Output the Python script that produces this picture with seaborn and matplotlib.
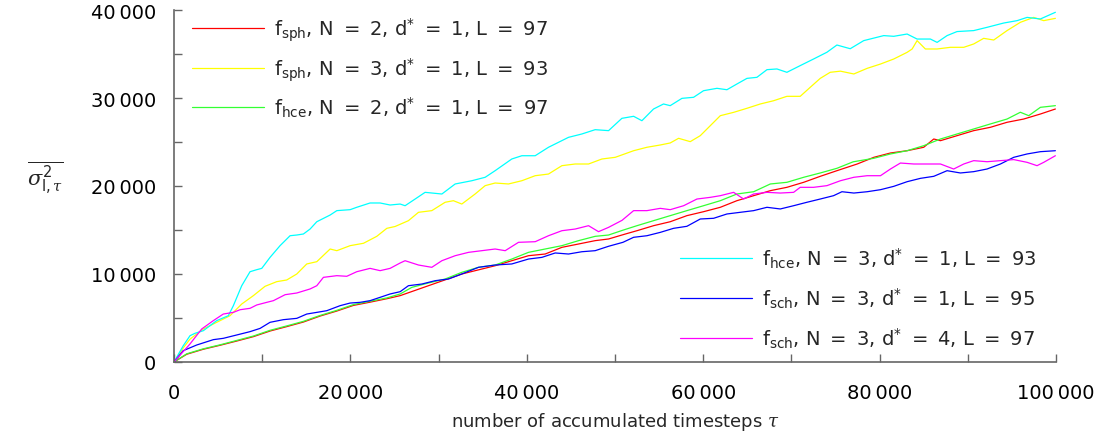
import numpy as np
import pandas as pd
import matplotlib
matplotlib.use("Agg")
import matplotlib.pyplot as plt
from matplotlib.ticker import MultipleLocator, FixedLocator
import seaborn as sns

# ---------------- data ----------------
EQ = " \u2009=\u2009 "
labels = [
    r"$\mathrm{f}_{\mathrm{sph}}$, N" + EQ + "2, d$^{*}$" + EQ + "1, L" + EQ + "97",
    r"$\mathrm{f}_{\mathrm{sph}}$, N" + EQ + "3, d$^{*}$" + EQ + "1, L" + EQ + "93",
    r"$\mathrm{f}_{\mathrm{hce}}$, N" + EQ + "2, d$^{*}$" + EQ + "1, L" + EQ + "97",
    r"$\mathrm{f}_{\mathrm{hce}}$, N" + EQ + "3, d$^{*}$" + EQ + "1, L" + EQ + "93",
    r"$\mathrm{f}_{\mathrm{sch}}$, N" + EQ + "3, d$^{*}$" + EQ + "1, L" + EQ + "95",
    r"$\mathrm{f}_{\mathrm{sch}}$, N" + EQ + "3, d$^{*}$" + EQ + "4, L" + EQ + "97",
]
colors = ["#ff0000", "#ffff00", "#33ff33", "#00ffff", "#0000ff", "#ff00ff"]

red_x = [0, 1440, 3330, 5220, 7110, 9000, 10890, 12780, 14670, 16560, 18460, 20340, 22230, 24130, 25640,
         28850, 32630, 36410, 40190, 42080, 43980, 45870, 47750, 49270, 51160, 52490, 54370, 56260, 58150,
         60040, 61940, 63820, 65720, 67610, 69490, 71390, 73270, 75160, 77460, 79350, 81230, 83120, 85000,
         86140, 86900, 88780, 90670, 92560, 94450, 96340, 98230, 99930]
red_y = [0, 880, 1450, 1900, 2380, 2880, 3520, 4020, 4540, 5220, 5790, 6430, 6800, 7190, 7540,
         8670, 10000, 10940, 12080, 12270, 13030, 13410, 13790, 13980, 14540, 14920, 15490, 15940, 16630,
         17080, 17580, 18330, 18900, 19470, 19850, 20420, 21100, 21740, 22500, 23260, 23750, 24010, 24400,
         25340, 25150, 25720, 26290, 26670, 27240, 27610, 28180, 28750]

yellow_x = [0, 1050, 1815, 3330, 4840, 6350, 7680, 9000, 10320, 11650, 12780, 13920, 15050, 16190, 17700,
            18460, 19970, 21480, 22990, 24130, 25070, 26580, 27720, 29230, 30740, 31680, 32630, 34140, 35280,
            36410, 37920, 39440, 40950, 42460, 43980, 45490, 47000, 48520, 50030, 52110, 53620, 55130, 56260,
            57210, 58530, 59670, 60800, 61940, 63450, 64960, 66470, 67980, 69490, 71000, 72140, 73270, 74400,
            75560, 77080, 78590, 80100, 81600, 83120, 83690, 84250, 85190, 86520, 88030, 89540, 90670, 91800,
            92940, 94450, 95960, 97470, 98610, 99930]
yellow_y = [0, 1600, 2600, 3750, 4510, 5260, 6590, 7540, 8600, 9130, 9320, 10000, 11140, 11400, 12840,
            12650, 13220, 13490, 14280, 15190, 15400, 16060, 17010, 17200, 18150, 18330, 17950, 19090, 20040,
            20340, 20230, 20600, 21170, 21360, 22310, 22500, 22500, 23070, 23260, 24010, 24400, 24660, 24890,
            25420, 25040, 25720, 26850, 27990, 28370, 28830, 29320, 29690, 30190, 30190, 31220, 32230, 32920,
            33050, 32730, 33370, 33860, 34430, 35190, 35570, 36520, 35570, 35570, 35760, 35760, 36140, 36780,
            36590, 37660, 38600, 39160, 38790, 39050]

green_x = [0, 1440, 3330, 5220, 7110, 9000, 10890, 12780, 14670, 16560, 18460, 20340, 22230, 24130, 25640,
           26960, 28850, 30740, 32630, 34520, 36410, 38300, 40190, 42080, 43980, 45870, 47750, 49270, 50900,
           52490, 54370, 56260, 58150, 60040, 61940, 63820, 65720, 67610, 69490, 71390, 73270, 75160, 77000,
           79350, 81230, 83120, 85000, 86900, 88780, 90670, 92560, 94450, 95960, 96910, 98230, 99930]
green_y = [0, 930, 1500, 1950, 2450, 2950, 3600, 4100, 4620, 5290, 5870, 6520, 6900, 7280, 7730,
           8480, 8980, 9430, 10190, 10760, 11020, 11700, 12460, 12840, 13220, 13790, 14280, 14430, 14980,
           15490, 16060, 16630, 17200, 17760, 18330, 19090, 19350, 20230, 20420, 20990, 21480, 22010, 22750,
           23150, 23640, 24010, 24580, 25340, 25910, 26480, 27050, 27610, 28380, 27990, 28940, 29130]

cyan_x = [0, 1050, 1815, 2380, 3330, 4840, 6160, 6730, 7680, 8620, 9380, 9950, 10890, 12025, 13160,
          13920, 14670, 15430, 16190, 17700, 18460, 19970, 20720, 22230, 23370, 24500, 25640, 26200, 27340,
          28470, 30370, 31880, 33770, 35280, 36410, 38300, 39440, 40950, 42460, 44730, 46240, 47750, 49270,
          50780, 52110, 53050, 54370, 55500, 56260, 57590, 58910, 60040, 61560, 62690, 63820, 64960, 66090,
          67230, 68360, 69490, 71000, 72510, 74030, 75160, 76670, 78200, 80470, 81600, 83120, 84250, 85760,
          86520, 87650, 88780, 90670, 92180, 94070, 95590, 96720, 98230, 99930]
cyan_y = [0, 1850, 2990, 3260, 3560, 4700, 5260, 6400, 8670, 10260, 10490, 10640, 11890, 13220, 14350,
          14430, 14545, 15110, 15940, 16700, 17200, 17310, 17580, 18070, 18070, 17840, 17950, 17760, 18520,
          19280, 19090, 20230, 20600, 20990, 21740, 23070, 23440, 23440, 24400, 25530, 25910, 26400, 26290,
          27690, 27920, 27420, 28750, 29320, 29130, 29960, 30080, 30830, 31100, 30940, 31590, 32230, 32350,
          33220, 33300, 32920, 33680, 34430, 35200, 36020, 35600, 36520, 37090, 37010, 37270, 36700, 36700,
          36320, 37090, 37550, 37660, 38030, 38520, 38790, 39160, 38980, 39740]

blue_x = [0, 1050, 2570, 4460, 5590, 7110, 8620, 9760, 10890, 12400, 13920, 15050, 16190, 17320, 18830,
          19970, 21100, 22230, 23370, 24500, 25640, 26580, 28100, 29610, 31120, 32630, 34520, 36410, 38300,
          40190, 41710, 43220, 44730, 46240, 47750, 49270, 50900, 52110, 53620, 55130, 56640, 58150, 59670,
          61180, 62690, 64200, 65720, 67230, 68740, 70250, 71760, 73270, 74780, 75730, 77080, 78590, 80100,
          81600, 83120, 84630, 86140, 87650, 89160, 90670, 92180, 93700, 95210, 96720, 98230, 99930]
blue_y = [0, 1290, 1930, 2540, 2690, 3070, 3450, 3820, 4510, 4810, 4960, 5450, 5640, 5830, 6400,
          6700, 6780, 6970, 7350, 7730, 7990, 8670, 8860, 9240, 9430, 10000, 10760, 11020, 11140,
          11700, 11890, 12390, 12270, 12530, 12650, 13150, 13600, 14170, 14350, 14730, 15190, 15420, 16250,
          16330, 16820, 17010, 17200, 17580, 17390, 17760, 18150, 18520, 18900, 19350, 19200, 19350, 19580,
          19960, 20490, 20870, 21100, 21740, 21480, 21630, 21930, 22500, 23260, 23640, 23900, 24010]

magenta_x = [0, 1815, 3140, 4460, 5590, 6730, 7490, 8620, 9380, 10520, 11270, 12600, 13920, 15430, 16190,
             16940, 18460, 19590, 20720, 22230, 23370, 24500, 25640, 26200, 27720, 29230, 30370, 31880, 33390,
             34900, 36410, 37550, 39060, 40950, 42460, 43980, 45490, 47000, 48130, 49270, 50800, 52110, 53620,
             55130, 56260, 57780, 59290, 60800, 61940, 63450, 64580, 65720, 67230, 68740, 70250, 71000, 72510,
             74030, 75560, 77080, 78590, 80100, 81230, 82360, 83880, 85390, 86900, 88400, 89540, 90670, 92180,
             93700, 95210, 96720, 97850, 98610, 99930]
magenta_y = [0, 2050, 3750, 4700, 5450, 5640, 5940, 6100, 6480, 6780, 6970, 7650, 7840, 8300, 8670,
             9620, 9810, 9740, 10260, 10640, 10380, 10640, 11250, 11510, 11020, 10760, 11510, 12080, 12460,
             12650, 12840, 12650, 13600, 13670, 14350, 14920, 15110, 15490, 14810, 15300, 16100, 17200, 17200,
             17460, 17310, 17760, 18520, 18710, 18900, 19280, 18520, 19090, 19280, 19200, 19280, 19850, 19850,
             20040, 20600, 20990, 21170, 21170, 21930, 22610, 22500, 22500, 22500, 21930, 22500, 22880, 22760,
             22880, 23000, 22690, 22310, 22690, 23440]

series_x = [red_x, yellow_x, green_x, cyan_x, blue_x, magenta_x]
series_y = [red_y, yellow_y, green_y, cyan_y, blue_y, magenta_y]

xticks = [0, 20000, 40000, 60000, 80000, 100000]
xtick_labels = ["0", "20\u2009000", "40\u2009000", "60\u2009000", "80\u2009000", "100\u2009000"]
yticks = [0, 10000, 20000, 30000, 40000]
ytick_labels = ["0", "10\u2009000", "20\u2009000", "30\u2009000", "40\u2009000"]

# ---------------- long-form table ----------------
frames = []
for lab, xs, ys in zip(labels, series_x, series_y):
    frames.append(pd.DataFrame({"tau": xs, "var": ys, "series": lab}))
df = pd.concat(frames, ignore_index=True)

# ---------------- style ----------------
sns.set_theme(style="ticks")
plt.rcParams["font.family"] = ["DejaVu Sans"]
plt.rcParams["mathtext.fontset"] = "custom"
plt.rcParams["mathtext.rm"] = "DejaVu Sans"
plt.rcParams["mathtext.it"] = "DejaVu Serif:italic"
plt.rcParams["mathtext.bf"] = "DejaVu Sans:bold"

fig = plt.figure(figsize=(10.94, 4.39), dpi=100)
ax = fig.add_axes([174 / 1094, 76 / 439, (1056 - 174) / 1094, (363 - 11) / 439])

sns.lineplot(data=df, x="tau", y="var", hue="series", palette=dict(zip(labels, colors)),
             hue_order=labels, estimator=None, sort=False, linewidth=0.9, legend=False, ax=ax)

ax.set_xlim(0, 100000)
ax.set_ylim(0, 40000)
ax.xaxis.set_major_locator(FixedLocator(xticks))
ax.set_xticklabels(xtick_labels)
ax.yaxis.set_major_locator(FixedLocator(yticks))
ax.set_yticklabels(ytick_labels)
ax.xaxis.set_minor_locator(MultipleLocator(10000))
ax.yaxis.set_minor_locator(MultipleLocator(5000))

spine_c = "#666666"
for s in ["top", "right"]:
    ax.spines[s].set_visible(False)
for s in ["left", "bottom"]:
    ax.spines[s].set_color(spine_c)
    ax.spines[s].set_linewidth(1.2)
ax.tick_params(axis="both", which="both", direction="in", length=5.8, width=1.0,
               color=spine_c, labelsize=14, labelcolor="black")
ax.tick_params(axis="y", which="major", pad=13)
ax.tick_params(axis="x", which="major", pad=15)

ax.set_xlabel("")
ax.set_ylabel("")
fig.text(615 / 1094, 1 - 422 / 439, r"number of accumulated timesteps $\tau$",
         fontsize=13, ha="center", va="center")
fig.text(45 / 1094, 1 - 178 / 439, r"$\overline{\sigma^{2}_{\mathrm{I},\tau}}$",
         fontsize=15, ha="center", va="center")

lines = ax.get_lines()
handles = lines[:6]
leg_kw = dict(bbox_transform=fig.transFigure, frameon=False, fontsize=14, handlelength=3.7,
              handletextpad=0.5, borderpad=0, borderaxespad=0, loc="upper left")
leg1 = ax.legend(handles[:3], labels[:3], bbox_to_anchor=(192 / 1094, 1 - 17 / 439),
                 labelspacing=0.62, **leg_kw)
ax.add_artist(leg1)
leg2 = ax.legend(handles[3:], labels[3:], bbox_to_anchor=(680 / 1094, 1 - 247 / 439),
                 labelspacing=0.8, **leg_kw)

fig.savefig("out.png", dpi=100)
